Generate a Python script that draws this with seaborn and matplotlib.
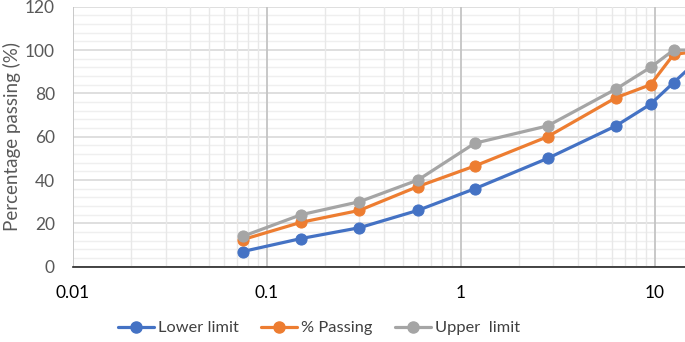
import matplotlib
matplotlib.use("Agg")
import matplotlib.pyplot as plt
import seaborn as sns
import pandas as pd
import numpy as np
from matplotlib.ticker import LogLocator, FixedLocator, MultipleLocator
from matplotlib.lines import Line2D

sieve = [0.075, 0.15, 0.3, 0.6, 1.18, 2.8, 6.3, 9.5, 12.5, 19]
lower = [7, 13, 18, 26, 36, 50, 65, 75, 85, 100]
passing = [12.5, 20.5, 26, 37, 46.5, 60, 78, 84, 98, 100]
upper = [14, 24, 30, 40, 57, 65, 82, 92, 100, 100]
series_names = ["Lower limit", "% Passing", "Upper  limit"]
colors = ["#4472C4", "#ED7D31", "#A5A5A5"]
x_ticks = [0.01, 0.1, 1, 10]
x_tick_labels = ["0.01", "0.1", "1", "10"]

sns.set_style("white")
plt.rcParams['font.family'] = ['Lato', 'DejaVu Sans']

fig = plt.figure(figsize=(6.85, 3.42), dpi=100)
ax = fig.add_axes([73/685, 1-266.7/342, 1-73/685, (266.7-6.7)/342])

ax.set_xscale("log")
ax.set_xlim(0.01, 14.3)
ax.set_ylim(0, 120)

# grid
ax.xaxis.set_major_locator(FixedLocator(x_ticks))
ax.xaxis.set_minor_locator(LogLocator(base=10, subs=np.arange(2, 10)))
ax.yaxis.set_major_locator(MultipleLocator(20))
ax.yaxis.set_minor_locator(MultipleLocator(4))
ax.grid(which="minor", axis="y", color="#efefef", lw=1.0, ls="-")
ax.grid(which="major", axis="y", color="#d9d9d9", lw=1.2, ls="-")
ax.grid(which="minor", axis="x", color="#e8e8e8", lw=1.0, ls="-")
ax.grid(which="major", axis="x", color="#c4c4c4", lw=1.3, ls="-")
ax.set_axisbelow(True)
ax.xaxis.set_zorder(0.6)

for name, vals, c in zip(series_names, [lower, passing, upper], colors):
    df = pd.DataFrame({"x": sieve, "y": vals})
    sns.lineplot(data=df, x="x", y="y", ax=ax, color=c, lw=2.3, marker="o",
                 markersize=8, markeredgecolor=c, sort=False, label=name, legend=False)

ax.set_xticks(x_ticks)
ax.set_xticklabels(x_tick_labels)
ax.tick_params(axis="x", which="both", length=0, pad=13, labelsize=12.5, labelcolor="#000000")
ax.tick_params(axis="y", which="both", length=0, pad=13, labelsize=12.5, labelcolor="#595959")
ax.set_xlabel("")
ax.set_ylabel("Percentage passing (%)", fontsize=13.5, color="#595959", labelpad=3)

for s in ["top", "right", "left"]:
    ax.spines[s].set_visible(False)
ax.spines["bottom"].set_color("#262626")
ax.spines["bottom"].set_linewidth(1.2)
ax.spines["bottom"].set_zorder(1)

handles = [Line2D([0], [0], color=c, lw=2.3, marker="o", markersize=8) for c in colors]
fig.legend(handles, series_names, loc="center", bbox_to_anchor=(0.466, 1-328/342),
           ncol=3, frameon=False, fontsize=11.8, handlelength=2.2, columnspacing=1.35,
           handletextpad=0.25, labelcolor="#404040")

fig.savefig("out.png", dpi=100)
